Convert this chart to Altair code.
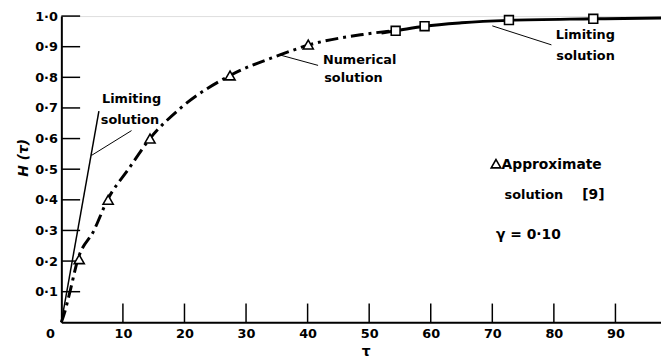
import altair as alt
import pandas as pd

FONT = "DejaVu Sans"
WEIGHT = "bold"

# Numerical solution (dash-dot)
tau_num = [0, 0.5, 1.4, 2.6, 5.3, 7.5, 10.9, 14.4, 19.4, 27.4, 35.5, 40.1, 49.0, 54.3]
h_num = [0, 0.03, 0.10, 0.20, 0.30, 0.40, 0.50, 0.60, 0.70, 0.806, 0.873, 0.905, 0.940, 0.953]

# Limiting solution, large tau (solid)
tau_lim = [52.0, 54.3, 59.0, 65.0, 72.7, 86.4, 97.4]
h_lim = [0.945, 0.952, 0.967, 0.978, 0.986, 0.991, 0.994]

# Limiting solution, small tau (straight line)
tau_lim0 = [0, 6.1]
h_lim0 = [0, 0.69]

# Approximate solution [9] (triangles)
tau_tri = [2.9, 7.6, 14.4, 27.4, 40.1]
h_tri = [0.206, 0.40, 0.60, 0.806, 0.907]

# Squares on the limiting curve
tau_sq = [54.3, 59.0, 72.7, 86.4]
h_sq = [0.952, 0.967, 0.987, 0.991]

x_ticks = [0, 10, 20, 30, 40, 50, 60, 70, 80, 90]
y_ticks = [0.1, 0.2, 0.3, 0.4, 0.5, 0.6, 0.7, 0.8, 0.9, 1.0]

ann_text = ["Limiting", "solution", "Numerical", "solution", "Limiting", "solution",
            "Approximate", "solution", "[9]", "\u03b3 = 0\u00b710"]
ann_tau = [6.6, 6.4, 42.5, 42.7, 80.3, 80.4, 71.5, 72.0, 84.6, 70.6]
ann_h = [0.729, 0.661, 0.858, 0.797, 0.939, 0.871, 0.513, 0.416, 0.416, 0.284]
ann_size = [13, 13, 13, 13, 13, 13, 14, 13, 14, 14]

# legend symbol for the approximate solution
leg_tau = [70.6]
leg_h = [0.518]

lead_tau = [4.9, 35.5, 70.0]
lead_h = [0.545, 0.873, 0.968]
lead_tau2 = [11.4, 41.7, 79.6]
lead_h2 = [0.626, 0.839, 0.906]

xs = alt.Scale(domain=[0, 97.4], nice=False, zero=False)
ys = alt.Scale(domain=[0, 1.0], nice=False)

df_num = pd.DataFrame({"tau": tau_num, "H": h_num})
df_lim = pd.DataFrame({"tau": tau_lim, "H": h_lim})
df_lim0 = pd.DataFrame({"tau": tau_lim0, "H": h_lim0})
df_tri = pd.DataFrame({"tau": tau_tri, "H": h_tri})
df_sq = pd.DataFrame({"tau": tau_sq, "H": h_sq})
df_ann = pd.DataFrame({"t": ann_text, "tau": ann_tau, "H": ann_h, "s": ann_size})
df_leg = pd.DataFrame({"tau": leg_tau, "H": leg_h})
df_lead = pd.DataFrame({"tau": lead_tau, "H": lead_h, "tau2": lead_tau2, "H2": lead_h2})
df_xt = pd.DataFrame({"v": x_ticks[1:]})
df_yt = pd.DataFrame({"v": y_ticks})

x_axis = alt.Axis(values=x_ticks, tickSize=0, labelPadding=5, labelFont=FONT, labelFontSize=13,
                  labelFontWeight=WEIGHT, labelOverlap=False,
                  labelColor="black", domainColor="black", domainWidth=2, grid=False,
                  labelOffset=alt.ExprRef(expr="datum.value == 0 ? -16 : 0"),
                  title="\u03c4", titleFont=FONT, titleFontSize=14, titleFontWeight=WEIGHT,
                  titleX=308, titleY=30, titleAlign="center", titleBaseline="middle")
y_axis = alt.Axis(values=y_ticks, tickSize=0, labelPadding=4, labelFont=FONT, labelFontSize=13,
                  labelFontWeight=WEIGHT, labelOverlap=False, labelBound=False,
                  labelColor="black", domainColor="black", domainWidth=2, grid=False,
                  labelExpr="replace(format(datum.value, '.1f'), '.', '\u00b7')",
                  title="H (\u03c4)", titleFont=FONT, titleFontSize=14, titleFontWeight=WEIGHT,
                  titleFontStyle="italic", titleAngle=270, titleX=-38, titleY=143,
                  titleAlign="center", titleBaseline="middle")

def X(f="tau"):
    return alt.X(f + ":Q", scale=xs, axis=x_axis)

def Y(f="H"):
    return alt.Y(f + ":Q", scale=ys, axis=y_axis)

base_num = alt.Chart(df_num).mark_line(color="black", strokeWidth=3, strokeDash=[13, 5, 3, 5],
                                       interpolate="monotone").encode(x=X(), y=Y())
lim = alt.Chart(df_lim).mark_line(color="black", strokeWidth=3, interpolate="monotone").encode(
    x=X(), y=Y())
lim0 = alt.Chart(df_lim0).mark_line(color="black", strokeWidth=1.5).encode(x=X(), y=Y())
tri = alt.Chart(df_tri).mark_point(shape="triangle-up", size=105, filled=True, fill="white",
                                   stroke="black", strokeWidth=1.6, opacity=1).encode(x=X(), y=Y())
leg = alt.Chart(df_leg).mark_point(shape="triangle-up", size=95, filled=True, fill="white",
                                   stroke="black", strokeWidth=1.6, opacity=1).encode(x=X(), y=Y())
sq = alt.Chart(df_sq).mark_point(shape="square", size=80, filled=True, fill="white",
                                 stroke="black", strokeWidth=1.6, opacity=1).encode(x=X(), y=Y())
xt = alt.Chart(df_xt).mark_rule(color="black", strokeWidth=1.5).encode(
    x=X("v"), y=alt.value(310), y2=alt.value(291))
yt = alt.Chart(df_yt).mark_rule(color="black", strokeWidth=1.5).encode(
    y=Y("v"), x=alt.value(0), x2=alt.value(19))
lead = alt.Chart(df_lead).mark_rule(color="black", strokeWidth=1).encode(
    x=X(), y=Y(), x2="tau2:Q", y2="H2:Q")
ann = alt.Chart(df_ann).mark_text(font=FONT, fontWeight=WEIGHT, align="left",
                                  baseline="middle", color="black").encode(
    x=X(), y=Y(), text="t:N", size=alt.Size("s:Q", scale=None, legend=None))

chart = alt.layer(base_num, lim, lim0, lead, xt, yt, tri, sq, leg, ann).properties(
    width=607, height=310,
    autosize=alt.AutoSizeParams(type="none"),
    padding={"left": 54, "top": 6, "right": 0, "bottom": 38},
).configure_view(stroke=None).configure_axis(labelOverlap=False).configure(background="white")

chart.save("out.html", embed_options={"renderer": "svg", "actions": False})
